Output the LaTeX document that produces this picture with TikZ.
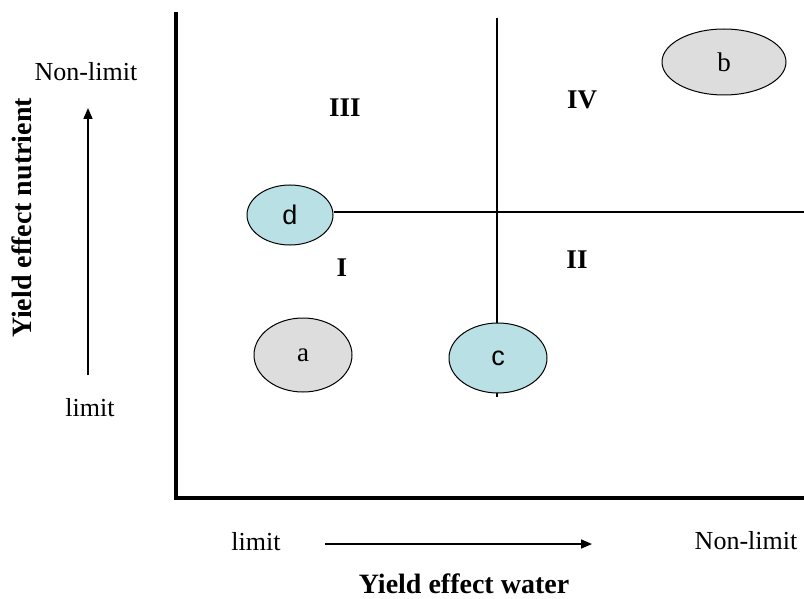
\documentclass[tikz,border=0pt]{standalone}
\usepackage{fontspec}
\setmainfont{Liberation Serif}
\newfontfamily\arialf{Liberation Sans}
\usetikzlibrary{shapes.geometric,arrows.meta}
\definecolor{cyfill}{RGB}{185,224,228}
\definecolor{grfill}{RGB}{221,221,221}
\tikzset{
  blob/.style={ellipse,draw=black,line width=1pt,inner sep=0pt},
  lbl/.style={font=\fontsize{26}{30}\selectfont,inner sep=0pt},
  quad/.style={font=\fontsize{27}{30}\selectfont\bfseries,inner sep=0pt},
  ttl/.style={font=\fontsize{28}{32}\selectfont\bfseries,inner sep=0pt},
  axisline/.style={line width=3.5pt},
  thinline/.style={line width=1.2pt},
  arr/.style={line width=1.6pt,-{Triangle[length=11pt,width=9pt]}}
}
\begin{document}
\begin{tikzpicture}[x=1pt,y=-1pt]
\useasboundingbox (0,0) rectangle (804,599);
% axes
\coordinate (ytop) at (176,12);
\coordinate (orig) at (176,498);
\coordinate (xend) at (806,498);
\draw[axisline] (ytop) -- (orig) -- (xend);
% internal lines
\coordinate (vtop) at (497,18);
\coordinate (vbot) at (497,397);
\coordinate (hend) at (806,212);
\draw[thinline] (vtop) -- (vbot);
% ellipses
\node[blob,fill=cyfill,minimum width=86pt,minimum height=60pt,font=\arialf\fontsize{27}{30}\selectfont] (d) at (290,215) {d};
\node[blob,fill=cyfill,minimum width=98pt,minimum height=70pt,font=\arialf\fontsize{27}{30}\selectfont] (c) at (498,358) {c};
\node[blob,fill=grfill,minimum width=98pt,minimum height=74pt,font=\fontsize{27}{30}\selectfont] (a) at (303,355) {a};
\node[blob,fill=grfill,minimum width=124pt,minimum height=66pt,font=\fontsize{27}{30}\selectfont] (b) at (724,62) {b};
\draw[thinline] (d.east |- hend) -- (hend);
% quadrant labels
\node[quad] (q3) at (345,108) {III};
\node[quad] (q4) at (582,100) {IV};
\node[quad] (q1) at (342,268) {I};
\node[quad] (q2) at (577,260) {II};
% axis labels
\node[lbl] (ynl) at (86,72) {Non-limit};
\node[lbl] (yl) at (90,408) {limit};
\node[lbl] (xl) at (256,542) {limit};
\node[lbl] (xnl) at (746,541) {Non-limit};
\node[ttl] (xt) at (464,584) {Yield effect water};
\node[ttl,rotate=90] (yt) at (22,218) {Yield effect nutrient};
% arrows
\coordinate (ya0) at (88,375);
\coordinate (ya1) at (88,108);
\coordinate (xa0) at (325,544);
\coordinate (xa1) at (592,544);
\draw[arr] (ya0) -- (ya1);
\draw[arr] (xa0) -- (xa1);
\end{tikzpicture}
\end{document}
